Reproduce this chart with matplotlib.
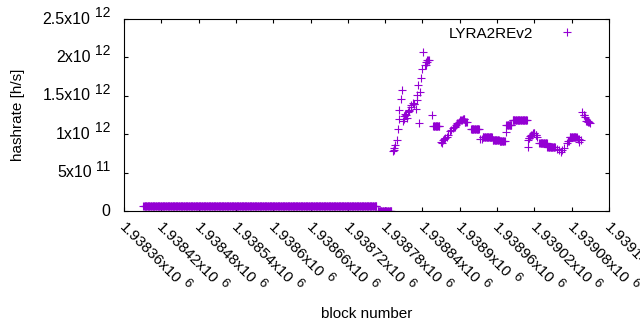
import numpy as np
import matplotlib
matplotlib.use('Agg')
import matplotlib.pyplot as plt
from matplotlib.transforms import ScaledTranslation, blended_transform_factory

plt.rcParams['font.family'] = ['Liberation Sans', 'DejaVu Sans']

# ---- data: runs of consecutive blocks sharing one hashrate value (x1e12 h/s)
run_start = [1938391, 1938768,
             1938793, 1938794, 1938795, 1938796, 1938799, 1938801, 1938802, 1938803,
             1938805, 1938807, 1938808, 1938810, 1938811, 1938812, 1938814, 1938815,
             1938816, 1938818, 1938819, 1938821, 1938822, 1938824, 1938826, 1938827,
             1938830, 1938831, 1938832, 1938833, 1938835, 1938836, 1938837, 1938839,
             1938841, 1938844, 1938846, 1938848, 1938855, 1938857, 1938870, 1938871,
             1938873, 1938875, 1938877, 1938879, 1938881, 1938884, 1938886, 1938889,
             1938891, 1938894, 1938896, 1938899, 1938901, 1938905, 1938908, 1938918,
             1938932, 1938935, 1938937, 1938953, 1938964, 1938974, 1938975, 1938985,
             1939009, 1939010, 1939011, 1939013, 1939015, 1939018, 1939022, 1939025,
             1939028, 1939041, 1939057, 1939060, 1939063, 1939065, 1939068, 1939072,
             1939074, 1939077, 1939090, 1939092, 1939095, 1939097, 1939099, 1939101,
             1939103, 1939107, 1939110]
run_end = [1938766, 1938790,
           1938793, 1938794, 1938795, 1938796, 1938799, 1938801, 1938802, 1938803,
           1938805, 1938807, 1938808, 1938810, 1938811, 1938812, 1938814, 1938815,
           1938816, 1938818, 1938819, 1938821, 1938822, 1938824, 1938826, 1938827,
           1938830, 1938831, 1938832, 1938833, 1938835, 1938836, 1938837, 1938839,
           1938841, 1938845, 1938847, 1938850, 1938855, 1938867, 1938870, 1938871,
           1938873, 1938875, 1938877, 1938879, 1938881, 1938884, 1938886, 1938889,
           1938892, 1938894, 1938897, 1938899, 1938903, 1938907, 1938911, 1938931,
           1938932, 1938935, 1938952, 1938963, 1938972, 1938974, 1938983, 1939008,
           1939009, 1939010, 1939012, 1939013, 1939016, 1939020, 1939023, 1939025,
           1939040, 1939053, 1939057, 1939060, 1939063, 1939065, 1939068, 1939072,
           1939075, 1939088, 1939091, 1939092, 1939095, 1939097, 1939100, 1939101,
           1939106, 1939108, 1939110]
run_value = [0.065, 0.0,
             0.777, 0.800, 0.820, 0.855, 0.921, 1.064, 1.194, 1.311,
             1.454, 1.572, 1.168, 1.200, 1.237, 1.267, 1.250, 1.211,
             1.289, 1.300, 1.311, 1.350, 1.384, 1.406, 1.397, 1.397,
             1.332, 1.441, 1.506, 1.637, 1.146, 1.549, 1.732, 1.845,
             2.070, 1.905, 1.940, 1.970, 1.254, 1.103, 0.898, 0.880,
             0.921, 0.935, 0.951, 0.965, 0.986, 1.038, 1.055, 1.081,
             1.100, 1.124, 1.140, 1.159, 1.180, 1.202, 1.159, 1.064,
             0.934, 0.940, 0.960, 0.924, 0.908, 1.033, 1.120, 1.185,
             0.837, 0.924, 0.950, 0.977, 0.990, 1.012, 0.990, 0.967,
             0.889, 0.837, 0.803, 0.790, 0.772, 0.790, 0.816, 0.882,
             0.910, 0.960, 0.934, 0.902, 0.924, 1.293, 1.250, 1.230,
             1.176, 1.160, 1.142]

series_label = 'LYRA2REv2'
x_tick_values = [1938360, 1938420, 1938480, 1938540, 1938600, 1938660, 1938720,
                 1938780, 1938840, 1938900, 1938960, 1939020, 1939080, 1939140]
x_tick_mantissas = ['1.93836', '1.93842', '1.93848', '1.93854', '1.9386', '1.93866',
                    '1.93872', '1.93878', '1.93884', '1.9389', '1.93896', '1.93902',
                    '1.93908', '1.93914']
x_tick_exponent = '6'
y_tick_values = [0, 5e11, 1e12, 1.5e12, 2e12, 2.5e12]
y_tick_mains = ['0', '5x10', '1x10', '1.5x10', '2x10', '2.5x10']
y_tick_exps = ['', '11', '12', '12', '12', '12']

blocks = np.concatenate([np.arange(s, e + 1) for s, e in zip(run_start, run_end)])
hashrate = np.concatenate([np.full(e - s + 1, v * 1e12)
                           for s, e, v in zip(run_start, run_end, run_value)])

color = '#9400D3'
FS_Y, FS_Y_SUP = 11.5, 10.0
FS_X, FS_X_SUP = 11.0, 9.5

fig = plt.figure(figsize=(6.4, 3.3), dpi=100)
ax = fig.add_axes([124 / 640, (330 - 211) / 330, 485 / 640, 192 / 330])
ax.plot(blocks, hashrate, linestyle='none', marker='+', color=color,
        markersize=5.2, markeredgewidth=0.8, label=series_label)

ax.set_xlim(1938360, 1939140)
ax.set_ylim(0, 2.5e12)
ax.set_xticks(x_tick_values)
ax.set_yticks(y_tick_values)
ax.tick_params(direction='in', top=True, right=True, length=3, width=0.8,
               labelbottom=False, labelleft=False)
for s in ax.spines.values():
    s.set_linewidth(0.8)

renderer = fig.canvas.get_renderer()


def text_width(s, fs):
    t = fig.text(0, 0, s, fontsize=fs)
    w = t.get_window_extent(renderer).width
    t.remove()
    return w


def shift(dx_px, dy_px):
    return ScaledTranslation(dx_px / 100.0, dy_px / 100.0, fig.dpi_scale_trans)


# y tick labels: mantissa + raised exponent
ytrans = blended_transform_factory(ax.transAxes, ax.transData)
for v, m, e in zip(y_tick_values, y_tick_mains, y_tick_exps):
    right = -14
    if e:
        ws = text_width(e, FS_Y_SUP)
        ax.text(0, v, e, fontsize=FS_Y_SUP, ha='right', va='center',
                transform=ytrans + shift(right, 6))
        ax.text(0, v, m, fontsize=FS_Y, ha='right', va='center',
                transform=ytrans + shift(right - ws - 4, 0))
    else:
        ax.text(0, v, m, fontsize=FS_Y, ha='right', va='center',
                transform=ytrans + shift(right, 0))

# x tick labels rotated -45 deg: mantissa + raised exponent
xtrans = blended_transform_factory(ax.transData, ax.transAxes)
ux, uy = np.cos(np.deg2rad(-45)), np.sin(np.deg2rad(-45))
nx, ny = -uy, ux
dx0, dy0 = -5.0, -17.5
for v, m in zip(x_tick_values, x_tick_mantissas):
    main = m + 'x10'
    ax.text(v, 0, main, fontsize=FS_X, rotation=-45, rotation_mode='anchor',
            ha='left', va='baseline', transform=xtrans + shift(dx0, dy0))
    off = text_width(main, FS_X) + 4
    raise_ = 6
    ax.text(v, 0, x_tick_exponent, fontsize=FS_X_SUP, rotation=-45,
            rotation_mode='anchor', ha='left', va='baseline',
            transform=xtrans + shift(dx0 + ux * off + nx * raise_,
                                     dy0 + uy * off + ny * raise_))

ax.set_xlabel('block number', fontsize=11)
ax.set_ylabel('hashrate [h/s]', fontsize=11)
ax.xaxis.set_label_coords(0.5, -0.5)
ax.yaxis.set_label_coords(-0.205, 0.5)

ax.legend(loc='upper right', bbox_to_anchor=(0.929, 0.96), markerfirst=False,
          frameon=False, handlelength=1.0, handletextpad=1.7, borderaxespad=0,
          borderpad=0, fontsize=11)

fig.savefig('out.png', dpi=100)
